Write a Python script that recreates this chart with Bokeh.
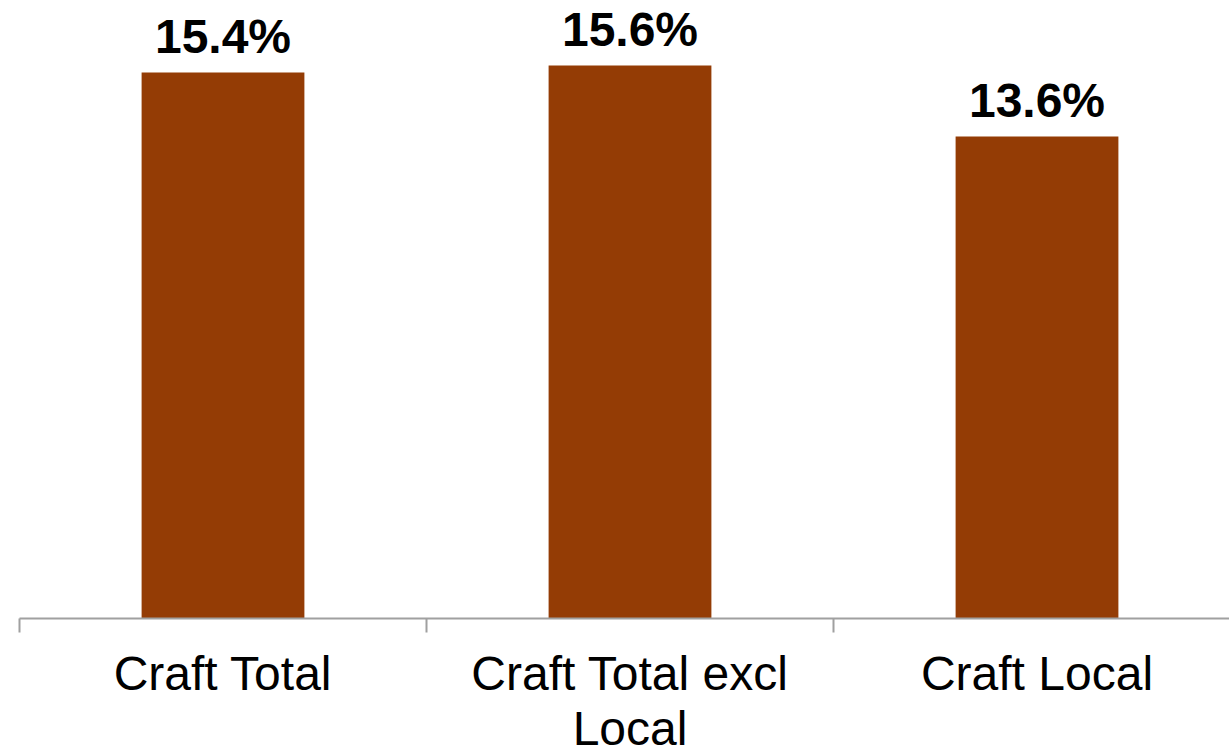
from bokeh.plotting import figure
from bokeh.models import Range1d, FixedTicker, ColumnDataSource
from bokeh.core.properties import value
from bokeh.embed import file_html
from bokeh.resources import INLINE

categories = ["Craft Total", "Craft Total excl\nLocal", "Craft Local"]
values = [15.4, 15.6, 13.6]
value_labels = ["15.4%", "15.6%", "13.6%"]

centers = [i + 0.5 for i in range(len(categories))]
source = ColumnDataSource(dict(x=centers, top=values, label=value_labels))

p = figure(frame_width=1210, frame_height=618, output_backend="svg",
           toolbar_location=None, x_range=Range1d(0, 1210 / 407),
           y_range=Range1d(0, 618 / 35.45),
           min_border_left=19, min_border_right=0, min_border_top=0,
           min_border_bottom=131)
p.outline_line_color = None
p.xgrid.visible = False
p.ygrid.visible = False
p.yaxis.visible = False
p.background_fill_color = "white"
p.border_fill_color = "white"

p.vbar(x="x", top="top", width=0.4, bottom=0, source=source,
       fill_color="#943C05", line_color=None)

p.text(x="x", y="top", text="label", source=source,
       text_font=value("Liberation Sans"), text_font_style="bold",
       text_font_size="48px", text_align="center",
       text_baseline="alphabetic", y_offset=-36, text_color="black")

ax = p.xaxis[0]
ax.ticker = FixedTicker(ticks=centers, minor_ticks=list(range(len(categories))))
ax.major_label_overrides = {c: lab for c, lab in zip(centers, categories)}
ax.major_tick_out = 0
ax.major_tick_in = 0
ax.minor_tick_out = 14
ax.minor_tick_in = 0
ax.minor_tick_line_color = "#A0A0A0"
ax.minor_tick_line_width = 2
ax.axis_line_color = "#A0A0A0"
ax.axis_line_width = 2
ax.major_label_standoff = 14
ax.major_label_text_font = "Liberation Sans"
ax.major_label_text_font_size = "48px"
ax.major_label_text_line_height = 1.05
ax.major_label_text_color = "black"

open("out.html", "w").write(file_html(p, INLINE))
